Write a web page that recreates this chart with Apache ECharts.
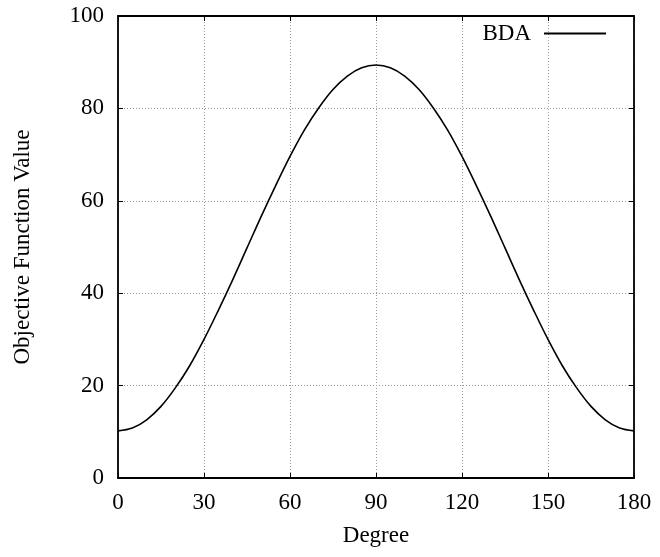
<!DOCTYPE html>
<html>
<head>
<meta charset="utf-8">
<script src="https://cdn.jsdelivr.net/npm/echarts@6/dist/echarts.min.js"></script>
<style>
  html, body { margin: 0; padding: 0; background: #fff; }
  #chart { width: 660px; height: 557px; }
</style>
</head>
<body>
<div id="chart"></div>
<script>
// Rotation angle (degrees) and the objective value at each angle
const degrees = [0, 5, 10, 15, 20, 25, 30, 35, 40, 45, 50, 55, 60, 65, 70, 75, 80, 85, 90,
                 95, 100, 105, 110, 115, 120, 125, 130, 135, 140, 145, 150, 155, 160, 165, 170, 175, 180];
const bdaValues = [10.2, 10.8, 12.6, 15.5, 19.5, 24.3, 30.0, 36.3, 42.9, 49.8, 56.7, 63.3, 69.6, 75.3, 80.1, 84.1, 87.0, 88.8, 89.4,
                   88.8, 87.0, 84.1, 80.1, 75.3, 69.6, 63.3, 56.7, 49.8, 42.9, 36.3, 30.0, 24.3, 19.5, 15.5, 12.6, 10.8, 10.2];
const seriesName = 'BDA';
const xTitle = 'Degree';
const yTitle = 'Objective Function Value';

const font = 'Liberation Serif, Times New Roman, serif';
const chart = echarts.init(document.getElementById('chart'), null, { renderer: 'canvas' });

const frameLine = { show: true, onZero: false, lineStyle: { color: '#000', width: 1.8 } };
const inTicks = { show: true, inside: true, length: 5, lineStyle: { color: '#000', width: 1 } };
const grid = { show: true, lineStyle: { color: '#999', type: [1, 2], width: 1 } };

chart.setOption({
  animation: false,
  backgroundColor: '#fff',
  grid: { left: 118, right: 26, top: 16, bottom: 79 },
  legend: {
    show: true,
    right: 49,
    top: 17,
    align: 'right',
    itemWidth: 62,
    itemHeight: 2,
    icon: 'rect',
    textStyle: { fontFamily: font, fontSize: 23, color: '#000', padding: [0, 8, 0, 0] },
    data: [{ name: seriesName, icon: 'rect', itemStyle: { color: '#000' } }]
  },
  xAxis: [
    {
      type: 'value', min: 0, max: 180, interval: 30,
      name: xTitle, nameLocation: 'middle', nameGap: 46,
      nameTextStyle: { fontFamily: font, fontSize: 23, color: '#000' },
      axisLine: frameLine,
      axisTick: inTicks,
      axisLabel: { fontFamily: font, fontSize: 23, color: '#000', margin: 13 },
      splitLine: grid
    },
    {
      type: 'value', position: 'top', min: 0, max: 180, interval: 30,
      axisLine: frameLine,
      axisTick: inTicks,
      axisLabel: { show: false },
      splitLine: { show: false }
    }
  ],
  yAxis: [
    {
      type: 'value', min: 0, max: 100, interval: 20,
      name: yTitle, nameLocation: 'middle', nameGap: 84, nameRotate: 90,
      nameTextStyle: { fontFamily: font, fontSize: 23, color: '#000' },
      axisLine: frameLine,
      axisTick: inTicks,
      axisLabel: { fontFamily: font, fontSize: 23, color: '#000', margin: 14 },
      splitLine: grid
    },
    {
      type: 'value', position: 'right', min: 0, max: 100, interval: 20,
      axisLine: frameLine,
      axisTick: inTicks,
      axisLabel: { show: false },
      splitLine: { show: false }
    }
  ],
  series: [{
    name: seriesName,
    type: 'line',
    xAxisIndex: 0,
    yAxisIndex: 0,
    data: degrees.map((d, i) => [d, bdaValues[i]]),
    smooth: 0.35,
    showSymbol: false,
    symbol: 'none',
    lineStyle: { color: '#000', width: 1.6 },
    itemStyle: { color: '#000' }
  }]
});
</script>
</body>
</html>
